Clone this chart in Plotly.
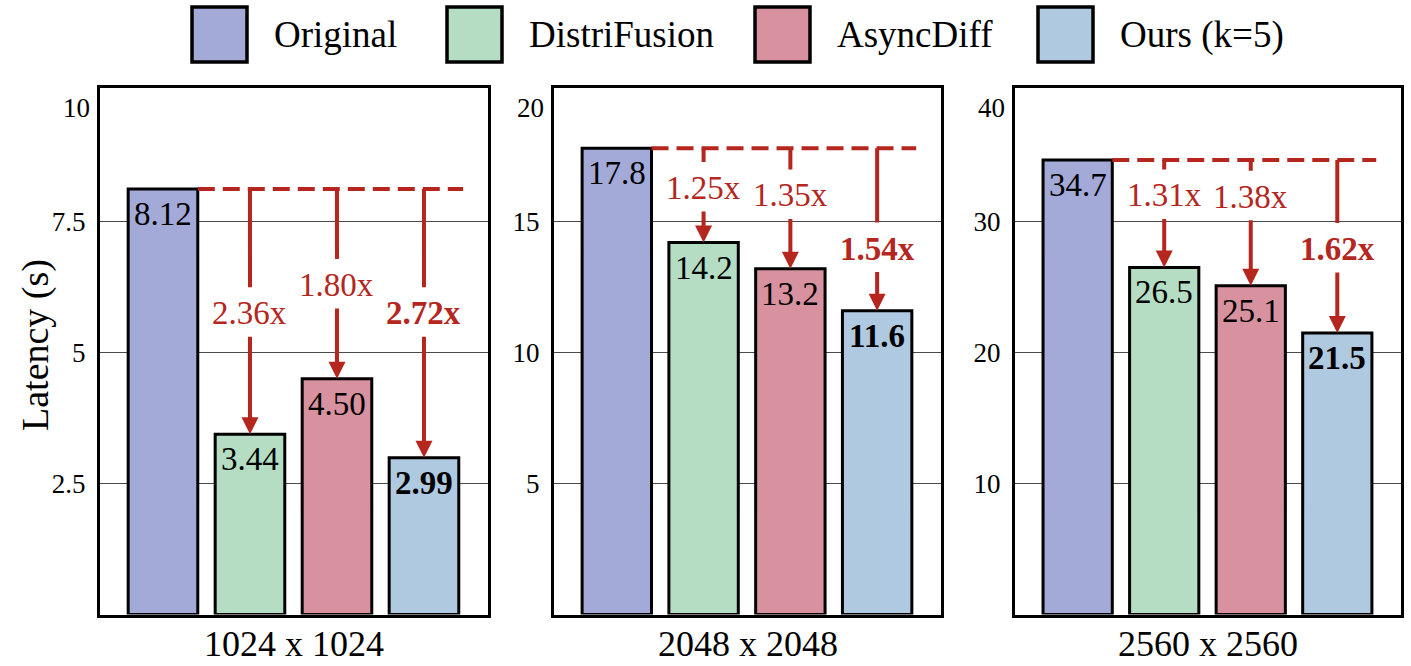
import plotly.graph_objects as go

# ---------------- data ----------------
methods = ["Original", "DistriFusion", "AsyncDiff", "Ours (k=5)"]
resolutions = ["1024 x 1024", "2048 x 2048", "2560 x 2560"]

latency_1024 = [8.12, 3.44, 4.50, 2.99]
latency_2048 = [17.8, 14.2, 13.2, 11.6]
latency_2560 = [34.7, 26.5, 25.1, 21.5]

speedup_1024 = ["2.36x", "1.80x", "2.72x"]
speedup_2048 = ["1.25x", "1.35x", "1.54x"]
speedup_2560 = ["1.31x", "1.38x", "1.62x"]

y_top = [10, 20, 40]
y_ticks_1024 = [2.5, 5, 7.5]
y_ticks_2048 = [5, 10, 15]
y_ticks_2560 = [10, 20, 30]
value_formats = ["{:.2f}", "{:.1f}", "{:.1f}"]

# label heights of speed-up texts (data units, layout only)
speedup_label_y = [[5.75, 6.29, 5.75], [16.28, 16.0, 13.97], [32.0, 31.9, 27.9]]

# ---------------- style ----------------
FONT = "Liberation Serif, Times New Roman, serif"
bar_colors = ["#A3AAD8", "#B4DDC3", "#D8919F", "#AFCAE0"]
RED = "#B4261E"
W, H = 1411, 666
x_domains = [(100 / W, 488 / W), (554 / W, 941 / W), (1015 / W, 1401 / W)]
plot_top_px, plot_bot_px = 88, 614.5
y_domain = ((H - plot_bot_px) / H, (H - plot_top_px) / H)
plot_h_px = plot_bot_px - plot_top_px
range_pad = 1.005

latencies = [latency_1024, latency_2048, latency_2560]
speedups = [speedup_1024, speedup_2048, speedup_2560]
y_ticks = [y_ticks_1024, y_ticks_2048, y_ticks_2560]

fig = go.Figure()
shapes = []
annotations = []
x_idx = list(range(len(methods)))

for p in range(3):
    sfx = "" if p == 0 else str(p + 1)
    xa, ya = "x" + sfx, "y" + sfx
    vals = latencies[p]
    fig.add_trace(go.Bar(
        x=x_idx, y=vals, width=0.8,
        marker=dict(color=bar_colors, line=dict(color="black", width=3)),
        xaxis=xa, yaxis=ya, showlegend=False, hoverinfo="skip"))

    top = y_top[p] * range_pad
    unit_px = plot_h_px / top

    fig.layout["xaxis" + sfx] = dict(
        domain=x_domains[p], range=[-0.724, 3.736], showticklabels=False,
        ticks="", showgrid=False, zeroline=False, showline=True, mirror=True,
        linewidth=3, linecolor="black", anchor=ya)
    fig.layout["yaxis" + sfx] = dict(
        domain=y_domain, range=[0, top], tickvals=y_ticks[p],
        ticktext=[("%g" % t) for t in y_ticks[p]], ticks="",
        showgrid=True, gridcolor="#4a4a4a", gridwidth=1.2, zeroline=False,
        showline=True, mirror=True, linewidth=3, linecolor="black",
        tickfont=dict(family=FONT, size=27, color="black"),
        ticklabelstandoff=6, anchor=xa)

    # top tick label (drawn slightly below the frame as in the reference)
    annotations.append(dict(
        xref=xa + " domain", yref=ya, x=0, y=y_top[p], xanchor="right",
        xshift=-8, yshift=-17, text="%g" % y_top[p], showarrow=False,
        font=dict(family=FONT, size=27, color="black")))

    # resolution label
    annotations.append(dict(
        xref=xa + " domain", yref="paper", x=0.5, y=0,
        xanchor="center", yanchor="bottom", text=resolutions[p],
        showarrow=False, font=dict(family=FONT, size=36, color="black")))

    # value labels inside bars
    for i, v in enumerate(vals):
        txt = value_formats[p].format(v)
        if i == len(vals) - 1:
            txt = "<b>" + txt + "</b>"
        annotations.append(dict(
            xref=xa, yref=ya, x=i, y=v, yanchor="top", yshift=-5,
            text=txt, showarrow=False,
            font=dict(family=FONT, size=33, color="black")))

    # dashed reference line at baseline latency
    base = vals[0]
    shapes.append(dict(
        type="line", xref=xa, yref=ya, x0=0.4, x1=len(vals) - 1 + 0.45,
        y0=base, y1=base, line=dict(color=RED, width=4, dash="17px,8px")))

    gap_up, gap_down = 26 / unit_px, 22 / unit_px
    for j, v in enumerate(vals[1:]):
        i = j + 1
        ly = speedup_label_y[p][j]
        shapes.append(dict(
            type="line", xref=xa, yref=ya, x0=i, x1=i, y0=base, y1=ly + gap_up,
            line=dict(color=RED, width=4)))
        annotations.append(dict(
            xref=xa, yref=ya, x=i, y=v, axref=xa, ayref=ya, ax=i,
            ay=ly - gap_down, text="", showarrow=True, arrowhead=2,
            arrowsize=0.85, arrowwidth=4, arrowcolor=RED, standoff=0))
        st = speedups[p][j]
        if j == len(vals) - 2:
            st = "<b>" + st + "</b>"
        annotations.append(dict(
            xref=xa, yref=ya, x=i, y=ly, yanchor="middle", text=st,
            showarrow=False, font=dict(family=FONT, size=33, color=RED)))

# y axis title
annotations.append(dict(
    xref="paper", yref="paper", x=35 / W, y=(H - 345) / H, text="Latency (s)",
    textangle=-90, showarrow=False, xanchor="center", yanchor="middle",
    font=dict(family=FONT, size=38, color="black")))

# legend (drawn manually to get large swatches)
legend_box_px = [192, 447, 755, 1038]
box = 55
for k, name in enumerate(methods):
    x0 = legend_box_px[k]
    shapes.append(dict(
        type="rect", xref="paper", yref="paper",
        x0=x0 / W, x1=(x0 + box) / W, y0=(H - 62) / H, y1=(H - 7) / H,
        fillcolor=bar_colors[k], line=dict(color="black", width=3.5)))
    annotations.append(dict(
        xref="paper", yref="paper", x=(x0 + box + 25) / W, y=(H - 35) / H,
        xanchor="left", yanchor="middle", text=name, showarrow=False,
        font=dict(family=FONT, size=37, color="black")))

fig.update_layout(
    width=W, height=H, margin=dict(l=0, r=0, t=0, b=0),
    paper_bgcolor="white", plot_bgcolor="white", showlegend=False,
    shapes=shapes, annotations=annotations, bargap=0.2,
    font=dict(family=FONT, color="black"))

fig.write_html(
    "out.html",
    config={"displayModeBar": False},
    post_script="document.body.style.margin='0px';document.body.style.overflow='hidden';")
